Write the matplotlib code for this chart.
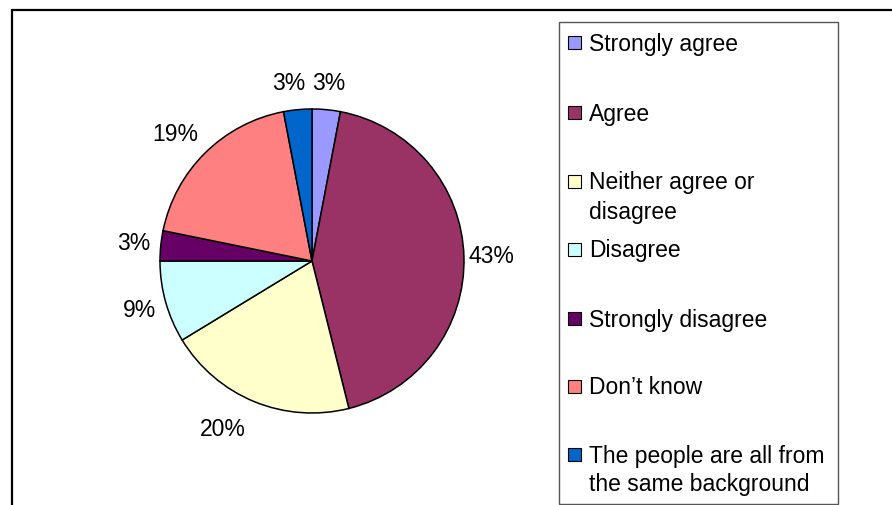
import matplotlib
matplotlib.use("Agg")
import matplotlib.pyplot as plt
from matplotlib.patches import Rectangle

plt.rcParams['font.family'] = ['Liberation Sans', 'DejaVu Sans']

categories = ['Strongly agree', 'Agree', 'Neither agree or\ndisagree', 'Disagree',
              'Strongly disagree', "Don\u2019t know", 'The people are all from\nthe same background']
values = [3.0, 43.1, 20.2, 8.7, 3.2, 18.8, 3.0]
colors = ['#9999FF', '#993366', '#FFFFCC', '#CCFFFF', '#660066', '#FF8080', '#0066CC']

W, H = 892, 506
FS = 16.5
fig = plt.figure(figsize=(W / 100, H / 100), dpi=100)

# outer chart frame (cropped on the right and bottom)
fig.patches.append(Rectangle((11.5 / W, -0.05), 1.2, (H - 11) / H + 0.05, transform=fig.transFigure,
                             fill=False, edgecolor='black', linewidth=1.6, zorder=0))

# pie: centre (312, 262) px, radius 152 px
cx, cy, r = 312, H - 262, 152
s = 1.3
ax = fig.add_axes([(cx - r * s) / W, (cy - r * s) / H, 2 * r * s / W, 2 * r * s / H])
wedges, texts, autotexts = ax.pie(values, colors=colors, startangle=90, counterclock=False,
                                  autopct='%1.0f%%', pctdistance=1.18,
                                  wedgeprops=dict(edgecolor='black', linewidth=1.1),
                                  textprops=dict(fontsize=FS, color='black'))
ax.set_xlim(-s, s)
ax.set_ylim(-s, s)
ax.set_aspect('equal')
ax.axis('off')
# excel-ish label nudges
for i, (ddx, ddy) in {2: (-0.14, -0.01), 5: (-0.07, 0.0), 6: (-0.04, 0.0)}.items():
    x, y = autotexts[i].get_position()
    autotexts[i].set_position((x + ddx, y + ddy))

# legend box
lx0, ly0, lx1, ly1 = 559, 23, 838, 505
fig.patches.append(Rectangle((lx0 / W, 1 - ly1 / H), (lx1 - lx0) / W, (ly1 - ly0) / H,
                             transform=fig.transFigure, fill=False, edgecolor='#555555',
                             linewidth=1.0))
entry_y = [43, 113, 182, 250, 319, 387, 455]
for lab, col, yy in zip(categories, colors, entry_y):
    fig.patches.append(Rectangle((568 / W, 1 - (yy + 6.5) / H), 13 / W, 13 / H,
                                 transform=fig.transFigure, facecolor=col,
                                 edgecolor='black', linewidth=0.8))
    for k, line in enumerate(lab.split('\n')):
        fig.text(589 / W, 1 - (yy + 7.5 + 29 * k) / H, line, fontsize=FS,
                 va='baseline', ha='left')

fig.savefig('out.png', dpi=100)
